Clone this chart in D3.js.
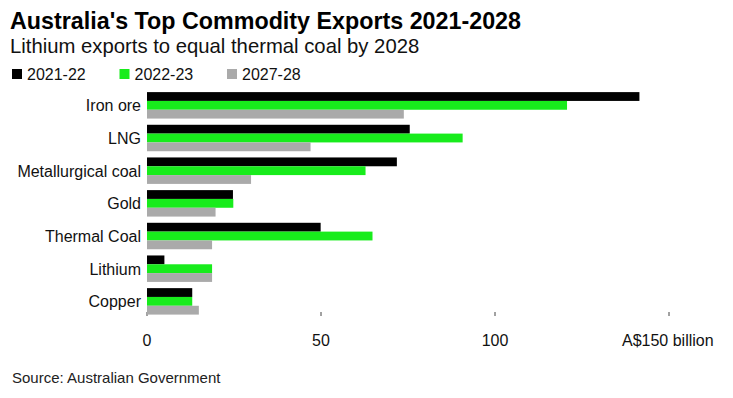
<!DOCTYPE html>
<html lang="en">
<head>
    <meta charset="UTF-8">
    <title>Australia's Top Commodity Exports</title>
    <script src="https://d3js.org/d3.v7.min.js"></script>
    <style>
        body {
            margin: 0;
            background: #fff;
            font-family: 'Liberation Sans', Arial, sans-serif;
        }
        .title {
            font-size: 24px;
            font-weight: bold;
            fill: #000;
        }
        .subtitle {
            font-size: 20.3px;
            fill: #111;
        }
        .legend text {
            font-size: 16px;
            fill: #111;
        }
        .cat-label {
            font-size: 16px;
            fill: #111;
            text-anchor: end;
        }
        .axis text {
            font-size: 16px;
            fill: #111;
        }
        .axis line {
            stroke: #444;
            stroke-width: 1;
        }
        .source {
            font-size: 15px;
            fill: #222;
        }
    </style>
</head>
<body>
    <svg id="chart" width="733" height="398"></svg>
    <script>
        // Data (A$ billion)
        const categories = ["Iron ore", "LNG", "Metallurgical coal", "Gold", "Thermal Coal", "Lithium", "Copper"];
        const seriesNames = ["2021-22", "2022-23", "2027-28"];
        const values2122 = [141.5, 75.5, 71.8, 24.7, 49.9, 5.0, 13.0];
        const values2223 = [120.7, 90.7, 62.8, 24.8, 64.8, 18.7, 13.0];
        const values2728 = [73.8, 47.0, 29.9, 19.7, 18.7, 18.7, 14.9];
        const tickValues = [0, 50, 100, 150];
        const tickLabels = ["0", "50", "100", "A$150 billion"];
        const colors = ["#000000", "#18ec1c", "#aaaaaa"];

        const seriesValues = [values2122, values2223, values2728];

        // Build rows for the grouped bars
        const rows = categories.map((c, i) => ({
            name: c,
            vals: seriesNames.map((s, j) => ({ series: s, value: seriesValues[j][i] }))
        }));

        const svg = d3.select("#chart");

        // Scales
        const x = d3.scaleLinear()
            .domain([0, 150])
            .range([147, 669]);

        const y = d3.scaleBand()
            .domain(categories)
            .range([89, 317.7])
            .paddingInner(0.19)
            .paddingOuter(0.095);

        const ySub = d3.scaleBand()
            .domain(seriesNames)
            .range([0, y.bandwidth()]);

        // Title and subtitle
        svg.append("text")
            .attr("class", "title")
            .attr("x", 10)
            .attr("y", 29)
            .attr("textLength", 511)
            .attr("lengthAdjust", "spacingAndGlyphs")
            .text("Australia's Top Commodity Exports 2021-2028");

        svg.append("text")
            .attr("class", "subtitle")
            .attr("x", 10)
            .attr("y", 53)
            .text("Lithium exports to equal thermal coal by 2028");

        // Legend
        const legend = svg.append("g")
            .attr("class", "legend")
            .selectAll("g")
            .data(seriesNames)
            .join("g")
            .attr("transform", (d, i) => `translate(${12 + i * 107.5},69)`);

        legend.append("rect")
            .attr("width", 10)
            .attr("height", 10)
            .attr("fill", (d, i) => colors[i]);

        legend.append("text")
            .attr("x", 15)
            .attr("y", 10.5)
            .text(d => d);

        // Axis ticks (drawn first so bars sit on top)
        const axis = svg.append("g")
            .attr("class", "axis");

        axis.selectAll("line")
            .data(tickValues)
            .join("line")
            .attr("x1", d => x(d))
            .attr("x2", d => x(d))
            .attr("y1", 312)
            .attr("y2", 316);

        axis.selectAll("text")
            .data(tickValues)
            .join("text")
            .attr("x", (d, i) => i === tickValues.length - 1 ? 622 : x(d))
            .attr("y", 346)
            .attr("text-anchor", (d, i) => i === tickValues.length - 1 ? "start" : "middle")
            .text((d, i) => tickLabels[i]);

        // Category labels
        svg.selectAll(".cat-label")
            .data(categories)
            .join("text")
            .attr("class", "cat-label")
            .attr("x", 141)
            .attr("y", d => y(d) + y.bandwidth() / 2 + 6)
            .text(d => d);

        // Grouped bars
        const groups = svg.selectAll(".group")
            .data(rows)
            .join("g")
            .attr("class", "group")
            .attr("transform", d => `translate(0,${y(d.name)})`);

        groups.selectAll("rect")
            .data(d => d.vals)
            .join("rect")
            .attr("x", x(0))
            .attr("y", d => ySub(d.series))
            .attr("width", d => x(d.value) - x(0))
            .attr("height", ySub.bandwidth())
            .attr("fill", (d, i) => colors[i]);

        // Source note
        svg.append("text")
            .attr("class", "source")
            .attr("x", 12)
            .attr("y", 383)
            .text("Source: Australian Government");
    </script>
</body>
</html>
